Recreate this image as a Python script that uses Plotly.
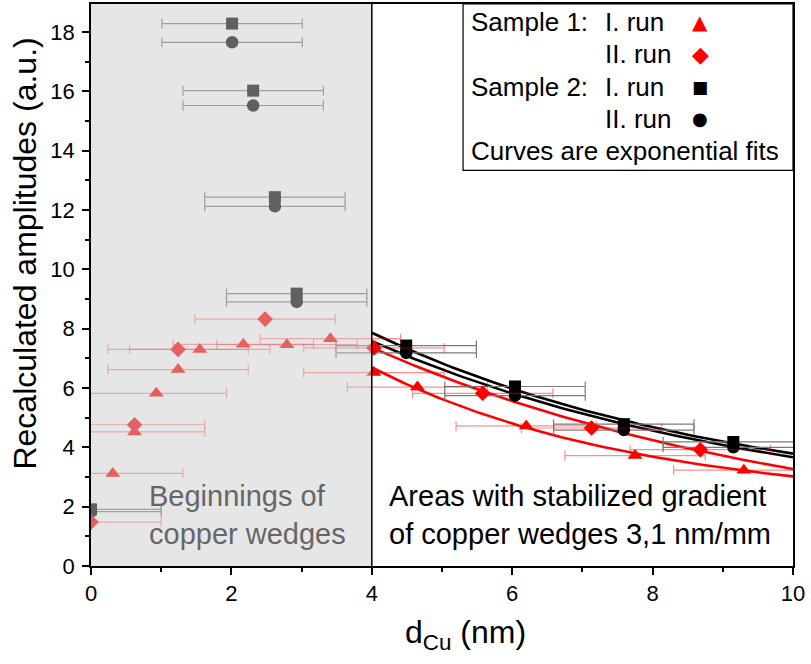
import numpy as np
import plotly.graph_objects as go

# Copper thickness (nm) and recalculated amplitudes (a.u.)
# Sample 1, first run (triangles)
s1_run1_x = [0.31, 0.62, 0.93, 1.24, 1.55, 2.17, 2.79, 3.41, 4.03, 4.65, 6.20, 7.75, 9.30]
s1_run1_y = [3.12, 4.52, 5.82, 6.62, 7.30, 7.47, 7.46, 7.66, 6.52, 6.03, 4.72, 3.72, 3.23]
# Sample 1, second run (diamonds)
s1_run2_x = [0.00, 0.62, 1.24, 2.48, 4.03, 5.58, 7.13, 8.68]
s1_run2_y = [1.48, 4.76, 7.30, 8.32, 7.35, 5.82, 4.65, 3.92]
# Sample 2, both runs share the same positions
s2_x = [0.00, 2.01, 2.31, 2.62, 2.93, 4.49, 6.04, 7.59, 9.15]
s2_run1_y = [1.91, 18.28, 16.02, 12.43, 9.18, 7.43, 6.05, 4.78, 4.18]
s2_run2_y = [1.83, 17.65, 15.52, 12.12, 8.90, 7.18, 5.74, 4.58, 4.00]
# Uncertainty of the thickness
x_err = 1.0

# Exponential fits y = y0 + A*exp(-k*(x - 4)) over the stabilized region
fit_names = ["s1_run1", "s1_run2", "s2_run1", "s2_run2"]
fit_y0 = [2.06, 0.60, 1.82, 1.455]
fit_amp = [4.63, 6.76, 6.04, 6.125]
fit_rate = [0.262, 0.155, 0.187, 0.170]
fit_colors = ["#ff0000", "#ff0000", "#000000", "#000000"]
fit_range = [4.0, 10.0]

x_ticks = [0, 2, 4, 6, 8, 10]
y_ticks = [0, 2, 4, 6, 8, 10, 12, 14, 16, 18]

FONT = "Liberation Sans, Arial, sans-serif"
RED = "#ff0000"
BLACK = "#000000"
RED_ERR = "rgba(255,0,0,0.45)"
GRAY_ERR = "#7a7a7a"

fig = go.Figure()

xf = np.linspace(fit_range[0], fit_range[1], 121)
for y0, a, k, c in zip(fit_y0, fit_amp, fit_rate, fit_colors):
    fig.add_trace(go.Scatter(x=xf, y=y0 + a * np.exp(-k * (xf - 4.0)), mode="lines",
                             line=dict(color=c, width=2.6), hoverinfo="skip",
                             showlegend=False))


def err(color):
    return dict(type="constant", value=x_err, color=color, thickness=1.2, width=5)


fig.add_trace(go.Scatter(x=s2_x, y=s2_run1_y, mode="markers", name="Sample 2: I. run",
                         marker=dict(symbol="square", size=12, color=BLACK),
                         error_x=err(GRAY_ERR), showlegend=False))
fig.add_trace(go.Scatter(x=s2_x, y=s2_run2_y, mode="markers", name="Sample 2: II. run",
                         marker=dict(symbol="circle", size=12.5, color=BLACK),
                         error_x=err(GRAY_ERR), showlegend=False))
fig.add_trace(go.Scatter(x=s1_run1_x, y=s1_run1_y, mode="markers", name="Sample 1: I. run",
                         marker=dict(symbol="triangle-up", size=13, color=RED),
                         error_x=err(RED_ERR), showlegend=False))
fig.add_trace(go.Scatter(x=s1_run2_x, y=s1_run2_y, mode="markers", name="Sample 1: II. run",
                         marker=dict(symbol="diamond", size=12, color=RED),
                         error_x=err(RED_ERR), showlegend=False))

shapes = [
    # translucent veil over the region where the wedges begin
    dict(type="rect", xref="x", yref="paper", x0=0, x1=4, y0=0, y1=1,
         fillcolor="rgba(202,202,202,0.475)", line=dict(width=0), layer="above"),
    dict(type="line", xref="x", yref="paper", x0=4, x1=4, y0=0, y1=1,
         line=dict(color=BLACK, width=1.5), layer="above"),
    # key box
    dict(type="rect", xref="paper", yref="paper", x0=0.530, x1=1.0, y0=0.704, y1=1.0,
         line=dict(color=BLACK, width=1.2), fillcolor="rgba(0,0,0,0)", layer="above"),
]

ann = []
key_rows = [
    ("Sample 1:", "I. run", "▲", RED, 20),
    ("", "II. run", "◆", RED, 22),
    ("Sample 2:", "I. run", "■", BLACK, 17),
    ("", "II. run", "●", BLACK, 18),
]
row_y = [0.968, 0.911, 0.853, 0.796]
for (lab, run, sym, col, sz), yy in zip(key_rows, row_y):
    if lab:
        ann.append(dict(text=lab, x=0.538, y=yy, xref="paper", yref="paper",
                        xanchor="left", yanchor="middle", showarrow=False,
                        font=dict(family=FONT, size=26, color=BLACK)))
    ann.append(dict(text=run, x=0.729, y=yy, xref="paper", yref="paper",
                    xanchor="left", yanchor="middle", showarrow=False,
                    font=dict(family=FONT, size=26, color=BLACK)))
    ann.append(dict(text=sym, x=0.868, y=yy, xref="paper", yref="paper",
                    xanchor="center", yanchor="middle", showarrow=False,
                    font=dict(family="DejaVu Sans", size=sz, color=col)))
ann.append(dict(text="Curves are exponential fits", x=0.538, y=0.738, xref="paper", yref="paper",
                xanchor="left", yanchor="middle", showarrow=False,
                font=dict(family=FONT, size=26, color=BLACK)))

ann.append(dict(text="Beginnings of<br>copper wedges", x=0.80, y=1.72, xref="x", yref="y",
                xanchor="left", yanchor="middle", align="left", showarrow=False,
                font=dict(family=FONT, size=29, color="#666666")))
ann.append(dict(text="Areas with stabilized gradient<br>of copper wedges 3,1 nm/mm", x=4.22, y=1.72,
                xref="x", yref="y", xanchor="left", yanchor="middle", align="left",
                showarrow=False, font=dict(family=FONT, size=29, color=BLACK)))

# axis titles
ann.append(dict(text="Recalculated amplitudes (a.u.)", x=-0.094, y=0.556, xref="paper",
                yref="paper", textangle=-90, xanchor="center", yanchor="middle",
                showarrow=False, font=dict(family=FONT, size=32, color=BLACK)))
ann.append(dict(text="d<sub>Cu</sub> (nm)", x=0.533, y=-0.122, xref="paper", yref="paper",
                xanchor="center", yanchor="middle", showarrow=False,
                font=dict(family=FONT, size=32, color=BLACK)))

axis_common = dict(showline=True, linecolor=BLACK, linewidth=1.5, mirror=True,
                   ticks="outside", ticklen=7, tickwidth=1.5, tickcolor=BLACK,
                   showgrid=False, zeroline=False,
                   tickfont=dict(family=FONT, size=22, color=BLACK))

fig.update_layout(
    width=811, height=664,
    margin=dict(l=91, r=18, t=2, b=98),
    paper_bgcolor="white", plot_bgcolor="white",
    shapes=shapes, annotations=ann, showlegend=False,
    xaxis=dict(range=[0, 10], tickvals=x_ticks,
               minor=dict(ticks="outside", ticklen=4, tickwidth=1.5, tickcolor=BLACK, dtick=1),
               **axis_common),
    yaxis=dict(range=[0, 18.94], tickvals=y_ticks, ticklabelstandoff=3,
               minor=dict(ticks="outside", ticklen=4, tickwidth=1.5, tickcolor=BLACK, dtick=1),
               **axis_common),
)

fig.write_html("out.html")
